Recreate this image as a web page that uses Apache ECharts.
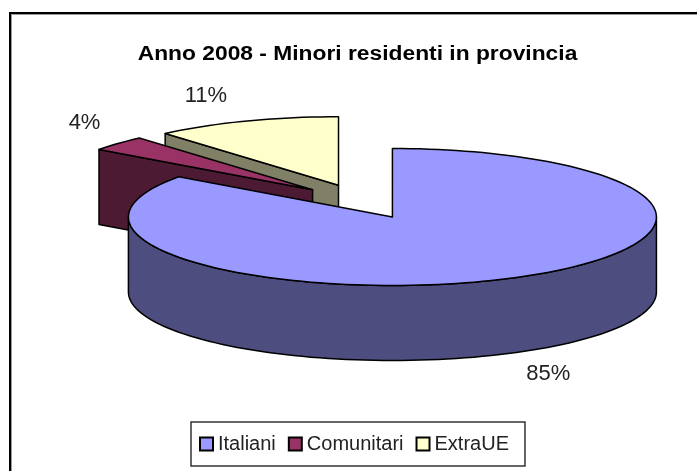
<!DOCTYPE html>
<html>
<head>
<meta charset="utf-8">
<style>html,body{margin:0;padding:0;background:#fff}#c{width:697px;height:471px}</style>
<script src="https://cdn.jsdelivr.net/npm/echarts@6/dist/echarts.min.js"></script>
</head>
<body>
<div id="c"></div>
<script>
const titleText = 'Anno 2008 - Minori residenti in provincia';
const categories = ['Italiani', 'Comunitari', 'ExtraUE'];
const values = [85, 3.6, 11.4];

const topColors = ['#9999FF', '#993366', '#FFFFCC'];
const sideColors = ['#4D4D80', '#4D1A33', '#808066'];
const labelReach = [1.3, 1.31, 1.39];
const labelShift = [[0, 3], [27, -6], [-4, 0]];
const seriesZ = [4, 3, 2];        // ExtraUE behind, Italiani in front

const geo = { cx: 362, cy: 201.5, rx: 264, ry: 68.5, depth: 75, explode: 67 };
const total = values.reduce((a, b) => a + b, 0);
const font = 'Liberation Sans, Arial, sans-serif';

function rad(d) { return d * Math.PI / 180; }
function onEllipse(o, deg, k) {
  return [o[0] + geo.rx * k * Math.sin(rad(deg)), o[1] - geo.ry * k * Math.cos(rad(deg))];
}
function arc(o, a, b) {
  const pts = [];
  const n = Math.max(2, Math.ceil(Math.abs(b - a) / 2));
  for (let i = 0; i <= n; i++) pts.push(onEllipse(o, a + (b - a) * i / n, 1));
  return pts;
}
function sliceRenderer(idx) {
  return function (params, api) {
    const v = api.value(0);
    const before = values.slice(0, idx).reduce((a, b) => a + b, 0);
    const a0 = before / total * 360;
    const a1 = a0 + v / total * 360;
    const mid = (a0 + a1) / 2;
    const apex = [
      geo.cx + geo.explode * Math.sin(rad(mid)),
      geo.cy - geo.explode * geo.ry / geo.rx * Math.cos(rad(mid))
    ];
    const down = p => [p[0], p[1] + geo.depth];
    const stroke = { stroke: '#000', lineWidth: 1.5, lineJoin: 'round' };
    const side = { fill: sideColors[idx], ...stroke };
    const children = [];
    // radial wall at the start edge, only when it faces the viewer
    if (a0 > 180) {
      const p = onEllipse(apex, a0, 1);
      children.push({ type: 'polygon', shape: { points: [apex, p, down(p), down(apex)] }, style: side, silent: true });
    }
    // outer curved wall: visible part lies between 90 and 270 degrees
    const s = Math.max(a0, 90), e = Math.min(a1, 270);
    if (e > s) {
      const top = arc(apex, s, e);
      children.push({ type: 'polygon', shape: { points: top.concat(top.map(down).reverse()) }, style: side, silent: true });
    }
    // top face
    children.push({
      type: 'polygon',
      shape: { points: [apex].concat(arc(apex, a0, a1)) },
      style: { fill: topColors[idx], ...stroke },
      silent: true
    });
    // percentage label
    const lp = onEllipse(apex, mid, labelReach[idx]);
    const front = Math.cos(rad(mid)) < 0;
    children.push({
      type: 'text',
      style: {
        x: lp[0] + labelShift[idx][0],
        y: lp[1] + (front ? geo.depth : 0) + labelShift[idx][1],
        text: Math.round(v / total * 100) + '%',
        fill: '#222', font: '22px ' + font, align: 'center', verticalAlign: 'middle'
      },
      silent: true, z2: 100
    });
    return { type: 'group', children };
  };
}

const chart = echarts.init(document.getElementById('c'), null, { renderer: 'canvas' });
chart.setOption({
  animation: false,
  backgroundColor: '#fff',
  legend: {
    data: categories.map(n => ({ name: n, icon: 'rect' })),
    left: 191, top: 422, orient: 'horizontal',
    itemWidth: 13, itemHeight: 13, itemGap: 12,
    padding: [12, 16, 12, 8],
    borderColor: '#333', borderWidth: 1.5, borderRadius: 0,
    selectedMode: false,
    textStyle: { fontFamily: font, fontSize: 20, color: '#222' }
  },
  graphic: [
    { type: 'line', shape: { x1: 11, y1: 14.5, x2: 697, y2: 14.5 }, style: { stroke: '#999', lineWidth: 1 }, silent: true },
    { type: 'line', shape: { x1: 11.5, y1: 14, x2: 11.5, y2: 471 }, style: { stroke: '#999', lineWidth: 1 }, silent: true },
    { type: 'line', shape: { x1: 9, y1: 13, x2: 697, y2: 13 }, style: { stroke: '#000', lineWidth: 2 }, silent: true },
    { type: 'line', shape: { x1: 10, y1: 12, x2: 10, y2: 471 }, style: { stroke: '#000', lineWidth: 2 }, silent: true },
    {
      type: 'text', x: 357.5, y: 54, scaleX: 1.14, silent: true,
      style: { text: titleText, font: 'bold 20px ' + font, fill: '#000', align: 'center', verticalAlign: 'middle' }
    }
  ],
  series: categories.map((name, i) => ({
    type: 'custom',
    name,
    coordinateSystem: 'none',
    renderItem: sliceRenderer(i),
    z: seriesZ[i],
    itemStyle: { color: topColors[i], borderColor: '#000', borderWidth: 1.5 },
    data: [[values[i]]],
    silent: true
  }))
});
</script>
</body>
</html>
